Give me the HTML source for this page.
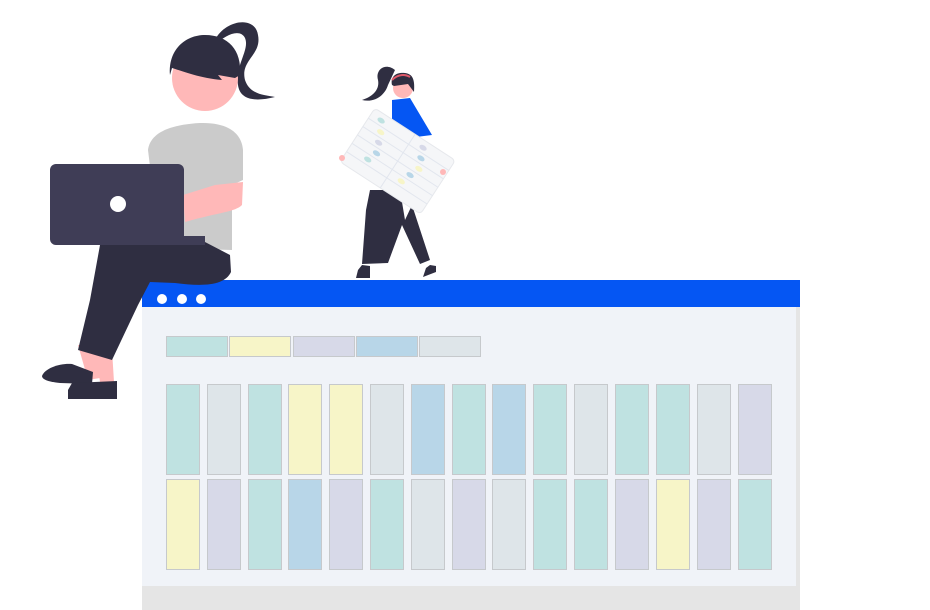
<!DOCTYPE html>
<html><head><style>html,body{margin:0;padding:0;background:#fff;}svg{display:block}</style></head>
<body>
<svg width="930" height="610" viewBox="0 0 930 610" xmlns="http://www.w3.org/2000/svg">
<rect x="142" y="307" width="658" height="303" fill="#e5e5e5"/>
<rect x="142" y="307" width="654" height="279" fill="#f0f3f8"/>
<rect x="142" y="280" width="658" height="27" fill="#0556f3"/>
<circle cx="162" cy="299" r="5" fill="#fff"/><circle cx="182" cy="299" r="5" fill="#fff"/><circle cx="201" cy="299" r="5" fill="#fff"/>
<g stroke="#c6c9cc" stroke-width="1">
<rect x="166.5" y="336.5" width="61" height="20" fill="#bfe2e1"/>
<rect x="229.5" y="336.5" width="61" height="20" fill="#f7f5c8"/>
<rect x="293.5" y="336.5" width="61" height="20" fill="#d7d9e8"/>
<rect x="356.5" y="336.5" width="61" height="20" fill="#b8d6e8"/>
<rect x="419.5" y="336.5" width="61" height="20" fill="#dee5e9"/>
<rect x="166.5" y="384.5" width="33" height="90" fill="#bfe2e1"/>
<rect x="207.5" y="384.5" width="33" height="90" fill="#dee5e9"/>
<rect x="248.5" y="384.5" width="33" height="90" fill="#bfe2e1"/>
<rect x="288.5" y="384.5" width="33" height="90" fill="#f7f5c8"/>
<rect x="329.5" y="384.5" width="33" height="90" fill="#f7f5c8"/>
<rect x="370.5" y="384.5" width="33" height="90" fill="#dee5e9"/>
<rect x="411.5" y="384.5" width="33" height="90" fill="#b8d6e8"/>
<rect x="452.5" y="384.5" width="33" height="90" fill="#bfe2e1"/>
<rect x="492.5" y="384.5" width="33" height="90" fill="#b8d6e8"/>
<rect x="533.5" y="384.5" width="33" height="90" fill="#bfe2e1"/>
<rect x="574.5" y="384.5" width="33" height="90" fill="#dee5e9"/>
<rect x="615.5" y="384.5" width="33" height="90" fill="#bfe2e1"/>
<rect x="656.5" y="384.5" width="33" height="90" fill="#bfe2e1"/>
<rect x="697.5" y="384.5" width="33" height="90" fill="#dee5e9"/>
<rect x="738.5" y="384.5" width="33" height="90" fill="#d7d9e8"/>
<rect x="166.5" y="479.5" width="33" height="90" fill="#f7f5c8"/>
<rect x="207.5" y="479.5" width="33" height="90" fill="#d7d9e8"/>
<rect x="248.5" y="479.5" width="33" height="90" fill="#bfe2e1"/>
<rect x="288.5" y="479.5" width="33" height="90" fill="#b8d6e8"/>
<rect x="329.5" y="479.5" width="33" height="90" fill="#d7d9e8"/>
<rect x="370.5" y="479.5" width="33" height="90" fill="#bfe2e1"/>
<rect x="411.5" y="479.5" width="33" height="90" fill="#dee5e9"/>
<rect x="452.5" y="479.5" width="33" height="90" fill="#d7d9e8"/>
<rect x="492.5" y="479.5" width="33" height="90" fill="#dee5e9"/>
<rect x="533.5" y="479.5" width="33" height="90" fill="#bfe2e1"/>
<rect x="574.5" y="479.5" width="33" height="90" fill="#bfe2e1"/>
<rect x="615.5" y="479.5" width="33" height="90" fill="#d7d9e8"/>
<rect x="656.5" y="479.5" width="33" height="90" fill="#f7f5c8"/>
<rect x="697.5" y="479.5" width="33" height="90" fill="#d7d9e8"/>
<rect x="738.5" y="479.5" width="33" height="90" fill="#bfe2e1"/>
</g>
<!-- big woman -->
<g>
<path d="M215 40 C225 20 255 15 258 35 C262 55 240 60 245 80 C250 95 265 95 275 97 C255 102 240 100 238 85 C235 65 250 50 245 38 C240 28 225 35 215 45Z" fill="#2f2e41"/>
<circle cx="205" cy="78" r="33" fill="#ffb8b8"/>
<path d="M170 75 C168 50 185 35 205 35 C228 35 242 50 240 75 L235 78 L218 75 L222 80 C200 78 185 72 172 68Z" fill="#2f2e41"/>
<path d="M148 150 C150 135 165 125 200 123 C230 122 242 135 243 150 L243 180 L232 185 L232 250 L160 248 Z" fill="#cbcbcb"/>
<path d="M183 195 L215 185 L243 182 L242 205 C235 212 220 212 185 222 Z" fill="#ffb8b8"/>
<path d="M78 345 L95 345 L100 378 L88 380Z" fill="#ffb8b8"/>
<path d="M95 350 L112 350 L114 382 L100 382Z" fill="#ffb8b8"/>
<path d="M100 245 L205 242 L230 255 L231 272 C225 285 205 287 175 283 L150 282 L138 305 L112 360 L78 350 L90 300 Z" fill="#2f2e41"/>
<path d="M42 376 C45 368 60 363 72 364 L93 372 L92 384 L60 383 C50 382 42 380 42 376Z" fill="#2f2e41"/>
<path d="M68 390 L72 383 L117 381 L117 399 L68 399Z" fill="#2f2e41"/>
<rect x="50" y="164" width="134" height="81" rx="6" fill="#3f3d56"/>
<rect x="150" y="236" width="55" height="9" fill="#3f3d56"/>
<circle cx="118" cy="204" r="8" fill="#fff"/>
</g>
<!-- small woman -->
<g>
<path d="M395 70 C385 62 375 70 378 80 C380 90 372 97 362 100 C375 103 385 95 388 85 Z" fill="#2f2e41"/>
<circle cx="403" cy="88" r="10" fill="#ffb8b8"/>
<path d="M392 85 C390 75 398 72 405 73 C413 74 415 80 414 92 L408 84 L394 86Z" fill="#2f2e41"/>
<path d="M392 80 C398 74 405 74 410 77" stroke="#e05a6b" stroke-width="2" fill="none"/>
<path d="M392 100 L410 98 L432 135 L392 140Z" fill="#0556f3"/>
<path d="M370 190 L400 190 L405 220 L412 205 L430 260 L420 264 L402 225 L388 263 L362 264 L366 210Z" fill="#2f2e41"/>
<path d="M358 270 L362 265 L370 266 L370 278 L356 278Z" fill="#2f2e41"/>
<path d="M426 268 L430 265 L436 266 L436 272 L423 277Z" fill="#2f2e41"/>
<g transform="rotate(33 396 160)">
<rect x="350" y="128" width="96" height="64" rx="4" fill="#f5f6f8" stroke="#e6e8ec"/>
<g stroke="#e2e6ee" stroke-width="1">
<line x1="350" y1="140" x2="446" y2="140"/><line x1="350" y1="150" x2="446" y2="150"/><line x1="350" y1="160" x2="446" y2="160"/><line x1="350" y1="170" x2="446" y2="170"/><line x1="350" y1="180" x2="446" y2="180"/><line x1="398" y1="128" x2="398" y2="192"/>
</g>
<ellipse cx="362" cy="135" rx="4" ry="2.5" fill="#bfe2e1"/><ellipse cx="368" cy="145" rx="4" ry="2.5" fill="#f7f5c8"/><ellipse cx="372" cy="155" rx="4" ry="2.5" fill="#d7d9e8"/><ellipse cx="376" cy="165" rx="4" ry="2.5" fill="#b8d6e8"/><ellipse cx="372" cy="175" rx="4" ry="2.5" fill="#bfe2e1"/>
<ellipse cx="412" cy="135" rx="4" ry="2.5" fill="#d7d9e8"/><ellipse cx="416" cy="145" rx="4" ry="2.5" fill="#b8d6e8"/><ellipse cx="420" cy="155" rx="4" ry="2.5" fill="#f7f5c8"/><ellipse cx="416" cy="165" rx="4" ry="2.5" fill="#b8d6e8"/><ellipse cx="412" cy="175" rx="4" ry="2.5" fill="#f7f5c8"/>
</g>
<circle cx="342" cy="158" r="3" fill="#ffb8b8"/><circle cx="443" cy="172" r="3" fill="#ffb8b8"/>
</g>
</svg>
</body></html>
